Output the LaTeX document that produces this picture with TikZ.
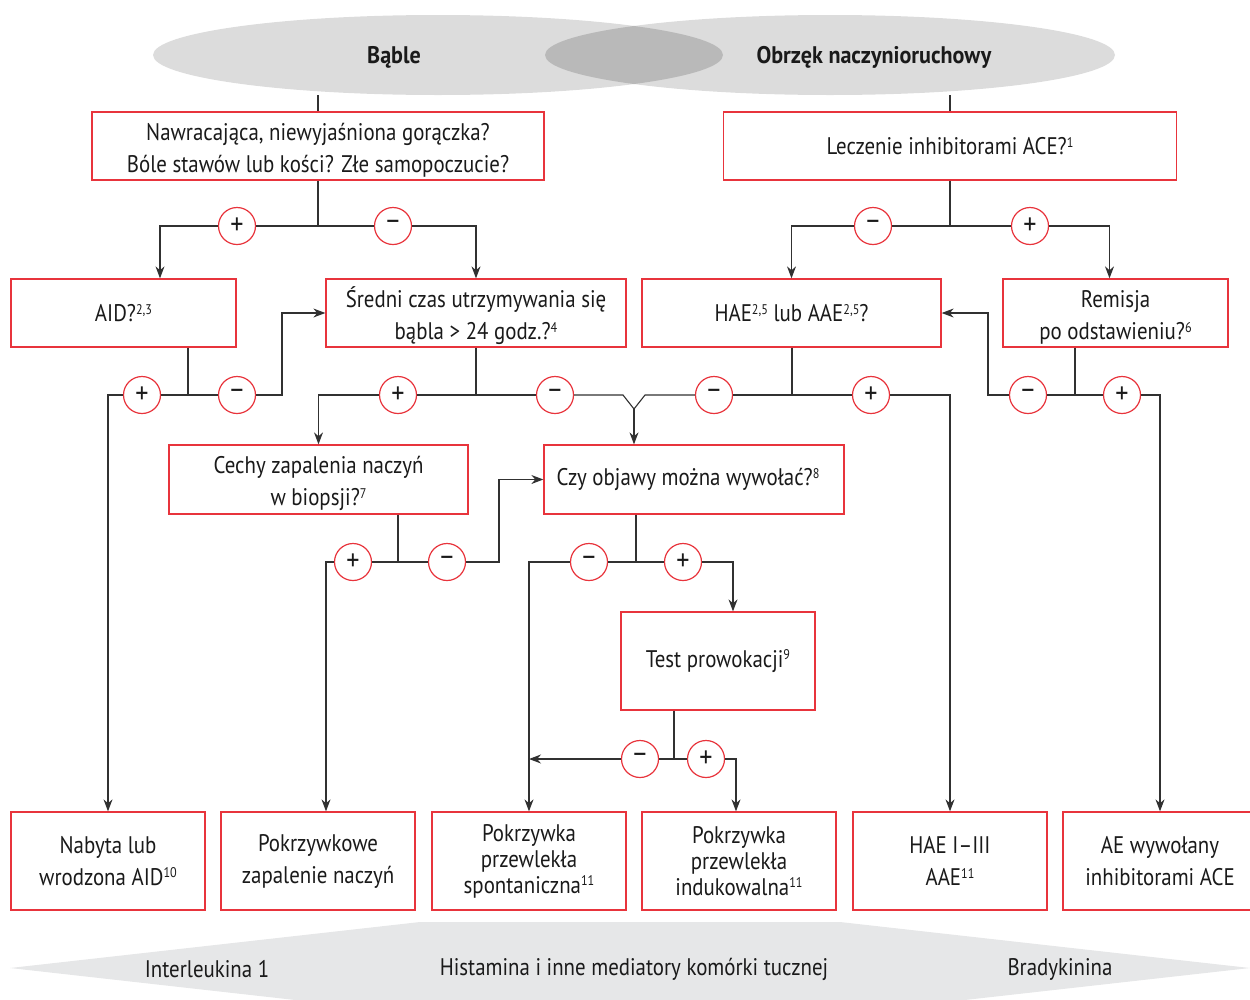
\documentclass[tikz,border=0pt]{standalone}
\usepackage{fontspec}
\setmainfont{PT Sans}[FakeStretch=0.87, BoldFeatures={FakeStretch=0.92}]
\usetikzlibrary{arrows.meta,calc}
\definecolor{boxred}{HTML}{E8343C}
\definecolor{ink}{HTML}{1A1A1A}
\definecolor{lgray}{HTML}{DCDCDC}
\definecolor{dgray}{HTML}{B9B9B9}
\definecolor{bgray}{HTML}{E6E7E8}
\newcommand{\sups}[1]{\raisebox{0.62ex}{\fontsize{14}{14}\selectfont #1}}
\begin{document}
\begin{tikzpicture}[x=1pt,y=-1pt,
 font=\fontsize{24}{32}\selectfont, text=ink,
 box/.style={draw=boxred, line width=1.3pt, fill=white, align=center, inner sep=0pt, minimum height=68pt},
 bbox/.style={box, minimum width=194pt, minimum height=98pt},
 sign/.style={circle, draw=boxred, fill=white, line width=1.2pt, minimum size=37pt, inner sep=0pt, font=\fontsize{30}{30}\selectfont},
 ln/.style={draw=ink!90, line width=1.1pt},
 arr/.style={ln, -{Stealth[length=12pt,width=9pt]}},
 lbl/.style={inner sep=0pt},
]
\useasboundingbox (0,0) rectangle (1250,999);

% ellipses
\fill[lgray] (438,55) ellipse [x radius=285, y radius=40];
\fill[lgray] (830,55) ellipse [x radius=285, y radius=40];
\begin{scope}
\clip (438,55) ellipse [x radius=285, y radius=40];
\fill[dgray] (830,55) ellipse [x radius=285, y radius=40];
\end{scope}
\node[lbl, font=\fontsize{24}{32}\selectfont\bfseries] (el1) at (394,57) {Bąble};
\node[lbl, font=\fontsize{24}{32}\selectfont\bfseries] (el2) at (874,57) {Obrzęk naczynioruchowy};
\coordinate (e1) at (318,95);
\coordinate (e2) at (950,95);

% bottom band
\fill[bgray] (10,968) -- (420,922) -- (840,922) -- (1250,968) -- (840,1014) -- (420,1014) -- cycle;
\node[lbl] (m1) at (207,969) {Interleukina 1};
\node[lbl] (m2) at (634,969) {Histamina i inne mediatory komórki tucznej};
\node[lbl] (m3) at (1060,969) {Bradykinina};

% boxes
\node[box, minimum width=452pt] (b1) at (318,146) {\rule{0pt}{26pt}Nawracająca, niewyjaśniona gorączka?\\Bóle stawów lub kości? Złe samopoczucie?};
\node[box, minimum width=453pt] (b2) at (950,146) {Leczenie inhibitorami ACE?\sups{1}};
\node[box, minimum width=225pt] (aid) at (123.5,313) {AID?\sups{2,3}};
\node[box, minimum width=300pt] (sr) at (476,313) {\rule{0pt}{26pt}Średni czas utrzymywania się\\bąbla > 24 godz.?\sups{4}};
\node[box, minimum width=299pt] (hae) at (791.5,313) {HAE\sups{2,5} lub AAE\sups{2,5}?};
\node[box, minimum width=225pt] (rem) at (1115.5,313) {\rule{0pt}{26pt}Remisja\\po odstawieniu?\sups{6}};
\node[box, minimum width=299pt, minimum height=69pt] (ce) at (318.5,479.5) {\rule{0pt}{26pt}Cechy zapalenia naczyń\\w biopsji?\sups{7}};
\node[box, minimum width=300pt, minimum height=69pt] (czy) at (694,479.5) {Czy objawy można wywołać?\sups{8}\hspace{12pt}};
\node[box, minimum width=194pt, minimum height=98pt] (test) at (718,661) {Test prowokacji\sups{9}};

\node[bbox] (o1) at (108,861) {Nabyta lub\\wrodzona AID\sups{10}};
\node[bbox] (o2) at (318,861) {Pokrzywkowe\\zapalenie naczyń};
\node[bbox, font=\fontsize{24}{26}\selectfont] (o3) at (529,861) {Pokrzywka\\przewlekła\\spontaniczna\sups{11}};
\node[bbox, font=\fontsize{24}{26}\selectfont] (o4) at (739,861) {Pokrzywka\\przewlekła\\indukowalna\sups{11}};
\node[bbox] (o5) at (950,861) {HAE I–III\\AAE\sups{11}};
\node[bbox] (o6) at (1160,861) {AE wywołany\\inhibitorami ACE};

% sign circles
\node[sign] (s1) at (237,226) {+};
\node[sign] (s2) at (393,226) {−};
\node[sign] (s3) at (873,226) {−};
\node[sign] (s4) at (1030,226) {+};
\node[sign] (s5) at (142,395) {+};
\node[sign] (s6) at (237,395) {−};
\node[sign] (s7) at (398,395) {+};
\node[sign] (s8) at (555,395) {−};
\node[sign] (s9) at (714,395) {−};
\node[sign] (s10) at (871,395) {+};
\node[sign] (s11) at (1028,395) {−};
\node[sign] (s12) at (1122,395) {+};
\node[sign] (s13) at (353,562) {+};
\node[sign] (s14) at (447,562) {−};
\node[sign] (s15) at (589,562) {−};
\node[sign] (s16) at (683,562) {+};
\node[sign] (s17) at (640,759) {−};
\node[sign] (s18) at (706,759) {+};

% junctions
\coordinate (j1) at (318,226);
\coordinate (j2) at (950,226);
\coordinate (j3) at (188,395);
\coordinate (j4) at (476,395);
\coordinate (j5) at (792,395);
\coordinate (j6) at (1075,395);
\coordinate (j7) at (398,562);
\coordinate (j8) at (636,562);
\coordinate (j9) at (674,759);
\coordinate (k1) at (282,395);
\coordinate (k2) at (988,395);
\coordinate (k3) at (499,562);
\coordinate (vl) at (623,395);
\coordinate (vr) at (645,395);
\coordinate (v) at (634,409);

% connectors
\draw[ln] (e1) -- (b1.north);
\draw[ln] (e2) -- (b2.north);

\draw[ln] (b1.south) -- (j1);
\draw[ln] (j1) -- (s1);
\draw[arr] (s1) -| ([xshift=36.5pt]aid.north);
\draw[ln] (j1) -- (s2);
\draw[arr] (s2) -| (sr.north);

\draw[ln] (b2.south) -- (j2);
\draw[ln] (j2) -- (s3);
\draw[arr] (s3) -| (hae.north);
\draw[ln] (j2) -- (s4);
\draw[arr] (s4) -| ([xshift=-6pt]rem.north);

\draw[ln] (aid.south -| j3) -- (j3);
\draw[ln] (j3) -- (s5);
\draw[arr] (s5) -| (o1.north);
\draw[ln] (j3) -- (s6);
\draw[arr] (s6) -- (k1) |- (sr.west);

\draw[ln] (sr.south) -- (j4);
\draw[ln] (j4) -- (s7);
\draw[arr] (s7) -| (ce.north);
\draw[ln] (j4) -- (s8);
\draw[ln] (s8) -- (vl) -- (v) -- (vr) -- (s9);
\draw[arr] (v) -- (czy.north -| v);

\draw[ln] (hae.south -| j5) -- (j5);
\draw[ln] (j5) -- (s9);
\draw[ln] (j5) -- (s10);
\draw[arr] (s10) -| (o5.north);

\draw[ln] (rem.south -| j6) -- (j6);
\draw[ln] (j6) -- (s11);
\draw[arr] (s11) -- (k2) |- (hae.east);
\draw[ln] (j6) -- (s12);
\draw[arr] (s12) -| (o6.north);

\draw[ln] (ce.south -| j7) -- (j7);
\draw[ln] (j7) -- (s13);
\draw[arr] (s13) -| ([xshift=8pt]o2.north);
\draw[ln] (j7) -- (s14);
\draw[arr] (s14) -- (k3) |- (czy.west);

\draw[ln] (czy.south -| j8) -- (j8);
\draw[ln] (j8) -- (s15);
\draw[arr] (s15) -| (o3.north);
\draw[ln] (j8) -- (s16);
\draw[arr] (s16) -| ([xshift=15pt]test.north);

\draw[ln] (test.south -| j9) -- (j9);
\draw[ln] (j9) -- (s17);
\draw[arr] (s17) -- (s17 -| o3.north);
\draw[ln] (j9) -- (s18);
\draw[arr] (s18) -| ([xshift=-3pt]o4.north);
\end{tikzpicture}
\end{document}
